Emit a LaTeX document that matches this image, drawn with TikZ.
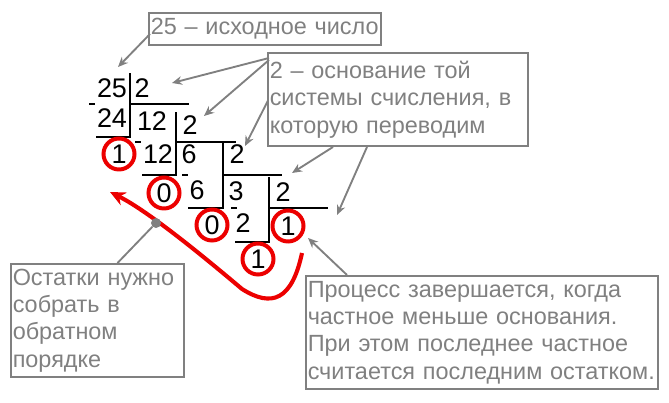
\documentclass[tikz,border=0pt]{standalone}
\usepackage{fontspec}
\setmainfont{Liberation Sans}
\usetikzlibrary{arrows.meta,calc}
\definecolor{Mark}{RGB}{236,0,0}
\definecolor{Note}{RGB}{128,128,128}

\begin{document}
\begin{tikzpicture}[x=0.03cm,y=-0.03cm,
  digit/.style={anchor=base,inner sep=0pt,font=\fontsize{23}{27}\selectfont},
  rest/.style={circle,draw=Mark,line width=3.4pt,minimum size=0.93cm,inner sep=0pt,font=\fontsize{23}{27}\selectfont},
  note/.style={draw=Note,line width=1.7pt,text=Note,align=left,anchor=north west,inner xsep=1.5pt,inner ysep=0pt,font=\fontsize{20}{23.3}\selectfont},
  pointer/.style={-{Stealth[length=3mm,width=2.6mm]},line width=1.6pt,Note},
  sweep/.style={-{Stealth[length=4.6mm,width=4.2mm]},line width=3.5pt,Mark},
  bar/.style={line width=1.2pt,black}]
\useasboundingbox (0,0) rectangle (669,403);
% division ladder
\foreach \vx/\vtop/\uy/\ul/\hy/\hr in {130/73/137/96/104/189,176/112/175/142/142/236,223/143/208/188/175/282,269/177/242/235/208/328}
  {\draw[bar] (\ul,\uy) -- (\vx,\uy) -- (\vx,\vtop); \draw[bar] (\vx,\hy) -- (\hr,\hy);}
\foreach \mx/\my in {89/104,135/142,182/175,231/208}
  \draw[bar] (\mx,\my) -- ++(6,0);
\node[digit] (dvA) at (112,98) {25};
\node[digit] (bsA) at (142,98) {2};
\node[digit] (sbA) at (112,128) {24};
\node[digit] (qtA) at (152,131) {12};
\node[digit] (bsB) at (190,135) {2};
\node[rest] (rmA) at (119,154) {1};
\node[digit] (sbB) at (158,164) {12};
\node[digit] (qtB) at (189,164) {6};
\node[digit] (bsC) at (237,164) {2};
\node[rest] (rmB) at (164,193) {0};
\node[digit] (sbC) at (197,200) {6};
\node[digit] (qtC) at (236,201) {3};
\node[digit] (bsD) at (283,202) {2};
\node[rest] (rmC) at (212,225) {0};
\node[digit] (sbD) at (243,233) {2};
\node[rest] (qtD) at (288,226) {1};
\node[rest] (rmD) at (258,259) {1};
% notes
\node[note,text width=6.96cm-3pt,minimum height=0.96cm] (source) at (148,12) {25 – исходное число};
\node[note,text width=7.8cm-3pt,minimum height=2.79cm] (base) at (267,52) {2 – основание той\\системы счисления, в\\которую переводим\\[4pt]};
\node[note,text width=5.19cm-3pt,minimum height=3.39cm] (order) at (10,263) {Остатки нужно\\собрать в\\обратном\\порядке};
\node[note,text width=10.56cm-3pt,minimum height=3.39cm] (stop) at (305,275) {Процесс завершается, когда\\частное меньше основания.\\При этом последнее частное\\считается последним остатком.};
% pointers
\coordinate (tipS) at (118,67);
\coordinate (tipA) at (172,83);
\coordinate (tipB) at (204,116);
\coordinate (tipC) at (245,146);
\coordinate (tipD) at (292,173);
\coordinate (tipE) at (337,215);
\coordinate (tipF) at (308,238);
\draw[pointer] ($(source.west)+(2,5)$) -- (tipS);
\draw[pointer] ($(base.north west)+(2,6)$) -- (tipA);
\draw[pointer] ($(base.north west)+(2,8)$) -- (tipB);
\draw[pointer] ($(base.west)+(1,1)$) -- (tipC);
\draw[pointer] ($(base.south west)+(66,0)$) -- (tipD);
\draw[pointer] ($(base.south west)+(100,0)$) -- (tipE);
\draw[pointer] ($(stop.north west)+(42,0)$) -- (tipF);
% reverse order sweep
\coordinate (sweepstart) at (302,253);
\coordinate (sweepend) at (110,192);
\draw[sweep] (sweepstart) .. controls (292,300) and (272,308) .. (242,289) .. controls (210,262) and (150,212) .. (sweepend);
\node[circle,fill=Note,minimum size=0.3cm,inner sep=0pt] (collect) at (156,223) {};
\draw[Note,line width=1.6pt] (collect) -- ($(order.north)+(20,0)$);
\end{tikzpicture}
\end{document}
